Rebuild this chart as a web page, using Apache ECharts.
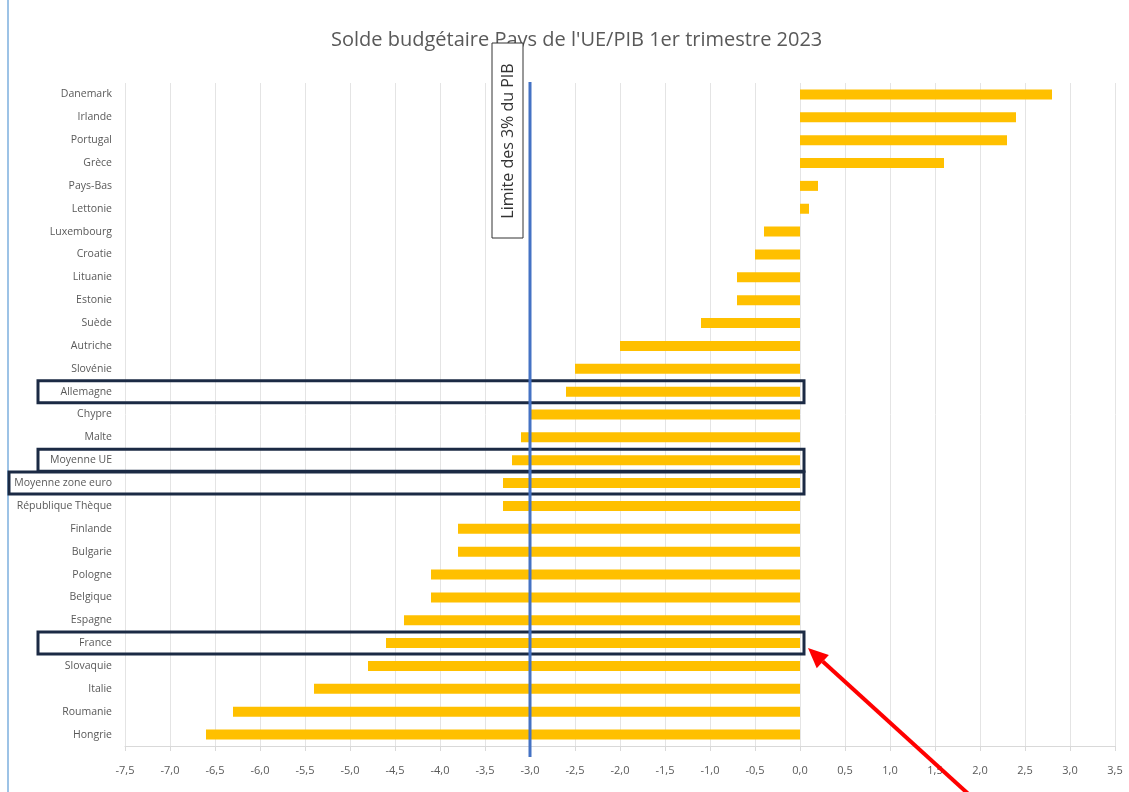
<!DOCTYPE html>
<html>
<head>
<meta charset="utf-8">
<script src="https://cdn.jsdelivr.net/npm/echarts@6/dist/echarts.min.js"></script>
<style>
  html, body { margin: 0; padding: 0; background: #fff; }
  #chart { width: 1129px; height: 792px; }
</style>
</head>
<body>
<div id="chart"></div>
<script>
// pays (de haut en bas)
const pays = ['Danemark', 'Irlande', 'Portugal', 'Grèce', 'Pays-Bas', 'Lettonie', 'Luxembourg',
  'Croatie', 'Lituanie', 'Estonie', 'Suède', 'Autriche', 'Slovénie', 'Allemagne', 'Chypre',
  'Malte', 'Moyenne UE', 'Moyenne zone euro', 'République Thèque', 'Finlande', 'Bulgarie',
  'Pologne', 'Belgique', 'Espagne', 'France', 'Slovaquie', 'Italie', 'Roumanie', 'Hongrie'];
// solde budgétaire en % du PIB
const solde = [2.8, 2.4, 2.3, 1.6, 0.2, 0.1, -0.4, -0.5, -0.7, -0.7, -1.1, -2.0, -2.5, -2.6, -3.0,
  -3.1, -3.2, -3.3, -3.3, -3.8, -3.8, -4.1, -4.1, -4.4, -4.6, -4.8, -5.4, -6.3, -6.6];
// lignes encadrées
const encadres = ['Allemagne', 'Moyenne UE', 'Moyenne zone euro', 'France'];
const limite = -3.0;

const chart = echarts.init(document.getElementById('chart'));

chart.setOption({
  animation: false,
  title: {
    text: "Solde budgétaire Pays de l'UE/PIB 1er trimestre 2023",
    left: 326,
    top: 25,
    textStyle: { fontFamily: 'Open Sans', fontSize: 20, fontWeight: 'normal', color: '#595959' }
  },
  grid: { left: 125, right: 14, top: 83, bottom: 46 },
  xAxis: {
    type: 'value',
    min: -7.5,
    max: 3.5,
    interval: 0.5,
    axisLine: { show: true, lineStyle: { color: '#d9d9d9' } },
    axisTick: { show: true, lineStyle: { color: '#d9d9d9' } },
    splitLine: { lineStyle: { color: '#e4e4e4' } },
    axisLabel: {
      margin: 19,
      fontFamily: 'Open Sans', fontSize: 11, color: '#595959',
      formatter: v => v.toFixed(1).replace('.', ',')
    }
  },
  yAxis: {
    type: 'category',
    data: pays,
    inverse: true,
    axisLine: { show: false },
    axisTick: { show: false },
    axisLabel: { margin: 13, fontFamily: 'Open Sans', fontSize: 10.5, color: '#595959' }
  },
  series: [{
    type: 'bar',
    data: solde,
    barWidth: 10,
    itemStyle: { color: '#FFC000' }
  }]
});

// annotations : ligne des 3%, cadres, flèche
function annoter() {
  const gx = v => chart.convertToPixel({ xAxisIndex: 0 }, v);
  const gy = c => chart.convertToPixel({ yAxisIndex: 0 }, c);
  const xl = gx(limite);
  const x0 = gx(0);
  const graphics = [];

  // bord gauche
  graphics.push({ type: 'line', shape: { x1: 8, y1: 0, x2: 8, y2: 792 },
    style: { stroke: '#9dc3e6', lineWidth: 2 } });

  // cadres
  encadres.forEach(nom => {
    const y = gy(nom);
    const left = nom === 'Moyenne zone euro' ? 9 : 38;
    graphics.push({ type: 'rect', z: 10,
      shape: { x: left, y: y - 11, width: x0 + 4 - left, height: 22 },
      style: { fill: null, stroke: '#1b2a44', lineWidth: 3 } });
  });

  // ligne limite
  graphics.push({ type: 'line', z: 12, shape: { x1: xl, y1: 82, x2: xl, y2: 757 },
    style: { stroke: '#4472C4', lineWidth: 3 } });

  // étiquette limite
  graphics.push({ type: 'rect', z: 12,
    shape: { x: xl - 38, y: 43, width: 31, height: 195 },
    style: { fill: '#fff', stroke: '#333', lineWidth: 1 } });
  graphics.push({ type: 'text', z: 13, x: xl - 22, y: 141, rotation: Math.PI / 2,
    style: { text: 'Limite des 3% du PIB', fontFamily: 'Open Sans', fontSize: 16, fill: '#333',
      align: 'center', verticalAlign: 'middle' } });

  // flèche rouge vers France
  const fx = x0 + 8, fy = gy('France') + 5;
  const sx = 975, sy = 800;
  const ang = Math.atan2(sy - fy, sx - fx);
  const L = 20, W = 9;
  const bx = fx + L * Math.cos(ang), by = fy + L * Math.sin(ang);
  graphics.push({ type: 'line', z: 14, shape: { x1: sx, y1: sy, x2: bx, y2: by },
    style: { stroke: '#ff0000', lineWidth: 4 } });
  graphics.push({ type: 'polygon', z: 14,
    shape: { points: [[fx, fy],
      [bx + W * Math.sin(ang), by - W * Math.cos(ang)],
      [bx - W * Math.sin(ang), by + W * Math.cos(ang)]] },
    style: { fill: '#ff0000' } });

  chart.setOption({ graphic: graphics });
}
annoter();
</script>
</body>
</html>
